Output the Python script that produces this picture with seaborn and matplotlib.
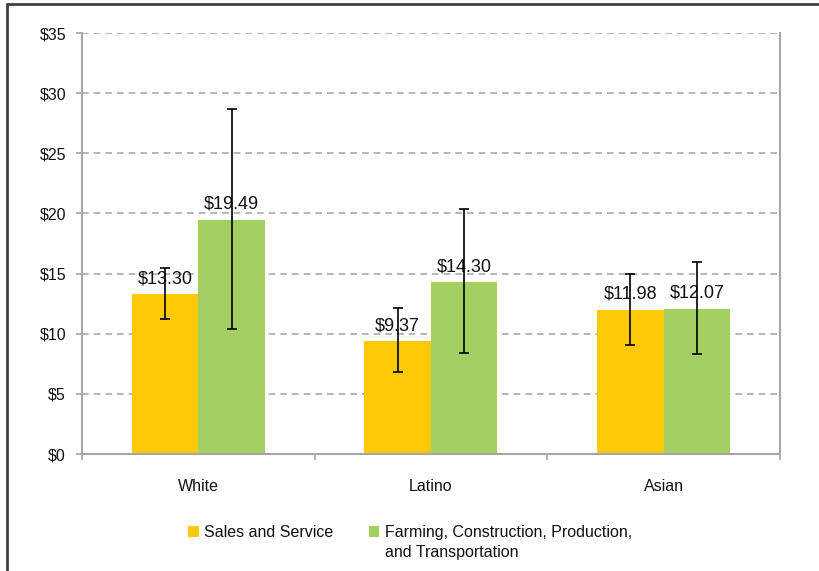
import pandas as pd
import seaborn as sns
import matplotlib.pyplot as plt
from matplotlib.lines import Line2D
from matplotlib.ticker import FuncFormatter, FixedLocator

groups = ['White', 'Latino', 'Asian']
occupations = ['Sales and Service',
               'Farming, Construction, Production,']
occupation_2nd_line = 'and Transportation'
sales = [13.30, 9.37, 11.98]
farming = [19.49, 14.30, 12.07]
# error bar ends (low, high)
sales_low = [11.2, 6.8, 9.1]
sales_high = [15.5, 12.1, 15.0]
farming_low = [10.4, 8.4, 8.3]
farming_high = [28.7, 20.4, 16.0]

colors = ['#FFC907', '#A4CF63']

df = pd.DataFrame({
    'group': groups * 2,
    'occupation': [occupations[0]] * 3 + [occupations[1]] * 3,
    'wage': sales + farming,
    'low': sales_low + farming_low,
    'high': sales_high + farming_high,
})

sns.set_style('white')
plt.rcParams['font.family'] = ['Liberation Sans', 'DejaVu Sans']

fig = plt.figure(figsize=(8.2, 5.71), dpi=100)
ax = fig.add_axes([0.1, 0.2049, 0.851, 0.7373])

sns.barplot(data=df, x='group', y='wage', hue='occupation', palette=colors,
            width=0.572, saturation=1, errorbar=None, linewidth=0, ax=ax)

# error bars and value labels on the bars
bars = ax.patches[:6]
for bar, (_, row) in zip(bars, df.iterrows()):
    xc = bar.get_x() + bar.get_width() / 2
    ax.errorbar(xc, row['wage'],
                yerr=[[row['wage'] - row['low']], [row['high'] - row['wage']]],
                fmt='none', ecolor='black', elinewidth=1.2, capsize=3.5,
                capthick=1.2, zorder=4)
    ax.annotate(f"${row['wage']:.2f}", (xc, row['wage']),
                xytext=(0, 5), textcoords='offset points',
                ha='center', va='bottom', fontsize=13, color='#111111',
                zorder=3)

ax.set_ylim(0, 35)
ax.set_xlim(-0.5, 2.5)
ax.set_yticks(range(0, 36, 5))
ax.yaxis.set_major_formatter(FuncFormatter(lambda v, p: f'${v:.0f}'))
ax.set_xlabel('')
ax.set_ylabel('')

ax.yaxis.grid(True, color='#AAAAAA', linestyle=(0, (4, 3)), linewidth=1.2)
ax.set_axisbelow(True)
for s in ['left', 'bottom', 'right']:
    ax.spines[s].set_color('#A6A6A6')
    ax.spines[s].set_linewidth(1.5)
ax.spines['top'].set_visible(False)

ax.tick_params(axis='y', length=4.5, width=1.2, color='#A6A6A6', pad=7,
               labelsize=11.5, left=True, labelcolor='#111111')
ax.tick_params(axis='x', which='major', length=0, pad=18, labelsize=11.5,
               labelcolor='#111111')
ax.xaxis.set_minor_locator(FixedLocator([-0.5, 0.5, 1.5, 2.5]))
ax.tick_params(axis='x', which='minor', bottom=True, length=4.5, width=1.2,
               color='#A6A6A6')

handles, labels = ax.get_legend_handles_labels()
ax.get_legend().remove()
leg = fig.legend(handles, labels, loc='upper center',
                 bbox_to_anchor=(0.5, 0.106), ncol=2, frameon=False,
                 fontsize=11.5, handlelength=0.65, handleheight=0.65,
                 handletextpad=0.35, columnspacing=2.2,
                 labelcolor='#111111')

# second line of the long legend label, under the first line
fig.canvas.draw()
bb = leg.get_texts()[1].get_window_extent().transformed(
    fig.transFigure.inverted())
fig.text(bb.x0, bb.y0 - 0.009, occupation_2nd_line, ha='left', va='top',
         fontsize=11.5, color='#111111')

# outer frame (only left and top edges show in the picture)
fig.add_artist(Line2D([7 / 820, 7 / 820], [0, 1 - 4 / 571],
                      transform=fig.transFigure, color='#404040', lw=2))
fig.add_artist(Line2D([7 / 820, 1], [1 - 4 / 571, 1 - 4 / 571],
                      transform=fig.transFigure, color='#404040', lw=2))

fig.savefig('out.png', dpi=100)
